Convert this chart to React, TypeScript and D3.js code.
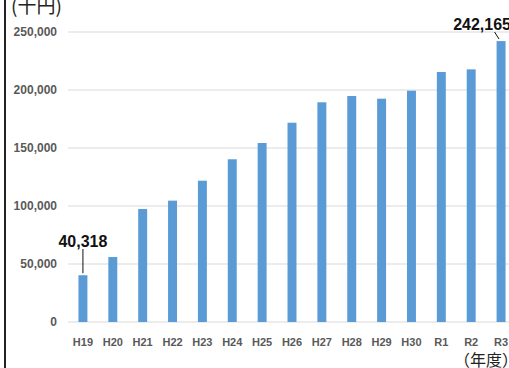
import React, { useEffect, useRef } from 'react';
import * as d3 from 'd3';

const YEARS = ['H19', 'H20', 'H21', 'H22', 'H23', 'H24', 'H25', 'H26', 'H27', 'H28', 'H29', 'H30', 'R1', 'R2', 'R3'];
const AMOUNTS = [40318, 56000, 97400, 104600, 121800, 140300, 154300, 171800, 189400, 194800, 192500, 199400, 215500, 217800, 242165];
const Y_TICKS = [0, 50000, 100000, 150000, 200000, 250000];
// only first and last bars carry a value label
const LABELLED = ['H19', 'R3'];

const W = 509;
const H = 368;

const App: React.FC = () => {
  const svgRef = useRef<SVGSVGElement>(null);

  useEffect(() => {
    if (!svgRef.current) return;
    const svg = d3.select(svgRef.current);
    svg.selectAll('*').remove();

    const left = 68;
    const right = 516; // plot runs a little past the picture edge
    const top = 32;
    const bottom = 322;

    const x = d3.scaleBand<string>()
      .domain(YEARS)
      .range([left, right])
      .paddingInner(0.7)
      .paddingOuter(0.35);

    const y = d3.scaleLinear().domain([0, 250000]).range([bottom, top]);

    const font = '"Liberation Sans", Arial, sans-serif';
    const cjk = '"Noto Sans CJK JP", sans-serif';

    // gridlines
    svg.append('g')
      .selectAll('line')
      .data(Y_TICKS)
      .enter().append('line')
      .attr('x1', left)
      .attr('x2', W)
      .attr('y1', d => y(d))
      .attr('y2', d => y(d))
      .attr('stroke', '#d9d9d9')
      .attr('stroke-width', 1.2);

    // y tick labels
    svg.append('g')
      .selectAll('text')
      .data(Y_TICKS)
      .enter().append('text')
      .attr('x', 57)
      .attr('y', d => y(d))
      .attr('dy', '0.35em')
      .attr('text-anchor', 'end')
      .style('font-family', font)
      .style('font-size', '12px')
      .style('font-weight', 'bold')
      .style('fill', '#595959')
      .text(d => d3.format(',')(d));

    // bars
    svg.append('g')
      .selectAll('rect')
      .data(AMOUNTS)
      .enter().append('rect')
      .attr('x', (_, i) => x(YEARS[i])!)
      .attr('width', x.bandwidth())
      .attr('y', d => y(d))
      .attr('height', d => bottom - y(d))
      .attr('fill', '#5b9bd5');

    // x labels
    svg.append('g')
      .selectAll('text')
      .data(YEARS)
      .enter().append('text')
      .attr('x', d => x(d)! + x.bandwidth() / 2)
      .attr('y', 346)
      .attr('text-anchor', 'middle')
      .style('font-family', font)
      .style('font-size', '11px')
      .style('font-weight', 'bold')
      .style('fill', '#595959')
      .text(d => d);

    // value labels + leader lines
    LABELLED.forEach(k => {
      const i = YEARS.indexOf(k);
      const cx = x(k)! + x.bandwidth() / 2;
      const v = AMOUNTS[i];
      const isLast = i === YEARS.length - 1;
      const tx = isLast ? cx - 19 : cx;
      const ty = isLast ? 30 : 247;
      svg.append('text')
        .attr('x', tx)
        .attr('y', ty)
        .attr('text-anchor', 'middle')
        .style('font-family', font)
        .style('font-size', '16px')
        .style('font-weight', 'bold')
        .style('fill', '#111')
        .text(d3.format(',')(v));
      svg.append('line')
        .attr('x1', isLast ? cx - 6.5 : cx)
        .attr('y1', ty + 2)
        .attr('x2', isLast ? cx - 2 : cx)
        .attr('y2', y(v) - 2)
        .attr('stroke', '#111')
        .attr('stroke-width', 1);
    });

    // unit labels
    svg.append('text')
      .attr('x', 11)
      .attr('y', 13)
      .style('font-family', cjk)
      .style('font-size', '19px')
      .style('fill', '#222')
      .text('(千円)');

    svg.append('text')
      .attr('x', 454)
      .attr('y', 366)
      .style('font-family', cjk)
      .style('font-size', '16px')
      .style('fill', '#222')
      .text('（年度）');

    // frame edge on the left
    svg.append('line')
      .attr('x1', 5)
      .attr('x2', 5)
      .attr('y1', 0)
      .attr('y2', H)
      .attr('stroke', '#222')
      .attr('stroke-width', 2);
  }, []);

  return (
    <svg
      ref={svgRef}
      width={W}
      height={H}
      style={{ position: 'absolute', left: 0, top: 0, background: '#fff', display: 'block' }}
    />
  );
};

export default App;
